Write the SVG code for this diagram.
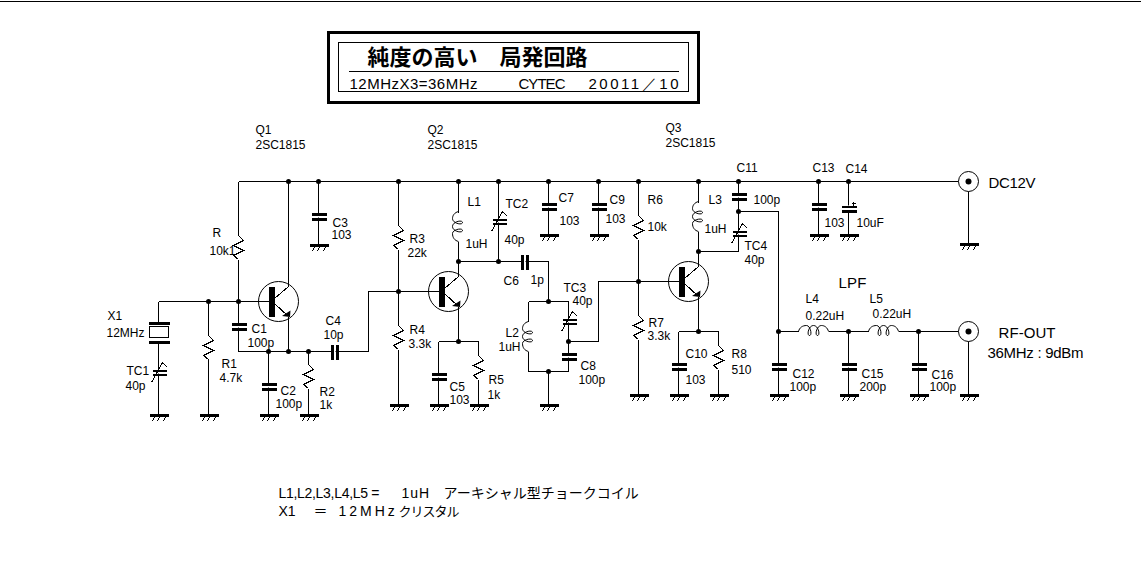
<svg xmlns="http://www.w3.org/2000/svg" xmlns:xlink="http://www.w3.org/1999/xlink" width="1141" height="576" viewBox="0 0 1141 576">
<style>
.w{fill:none;stroke:#000;stroke-width:1;shape-rendering:crispEdges}
.f{fill:#000;stroke:none;shape-rendering:crispEdges}
.d{fill:#000;stroke:none}
.t{font-family:"Liberation Sans",Arial,sans-serif;font-size:12px;fill:#000}
.m{font-family:"Liberation Sans",Arial,sans-serif;font-size:15px;fill:#000}
.j{font-family:"Liberation Sans","Noto Sans CJK JP",sans-serif;font-size:14px;fill:#000}
.h{font-family:"Noto Sans CJK JP",sans-serif;font-size:22px;font-weight:700;fill:#000}
</style>
<defs>
<g id="gnd"><rect class="f" x="-9" y="-1" width="19" height="3"/><path class="w" d="M-4 2L-6 7M1 2L-1 7M7 2L5 7"/></g>
<path id="res" class="w" d="M0 0L5 5L-5 10L5 15L-5 20L0 24"/>
<g id="cap"><rect x="-7.5" y="-1" width="16" height="2" fill="#fff"/><rect class="f" x="-7" y="-4" width="15" height="3"/><rect class="f" x="-7" y="1" width="15" height="3"/></g>
<g id="tc"><rect x="-7" y="-1" width="15" height="2" fill="#fff"/><rect class="f" x="-6" y="-3" width="14" height="2"/><rect class="f" x="-6" y="1" width="14" height="2"/><path class="w" d="M-7 10L4 -10L9 -5"/></g>
<path id="coil" fill="none" stroke="#000" stroke-width="1" d="M0 0C1 -4 4 -6 8 -6C12 -6 14 4 11 4C8 4 10 -6 15 -6C20 -6 22 4 19 4C16 4 18 -6 23 -6C26 -6 29 -4 30 0"/>
<g id="npn"><circle r="20" fill="none" stroke="#000" stroke-width="1"/><rect class="f" x="-10" y="-15" width="6" height="30"/><path class="w" d="M-4 -3L10 -15M-4 2L10 15"/><path class="d" d="M12 9L11.5 15.5L3.5 14.5Z"/></g>
<g id="jack"><circle r="10" fill="#fff" stroke="#000" stroke-width="1"/><circle r="3" class="d"/></g>
<circle id="dot" r="2.5" class="d"/>
</defs>
<rect id="top-line" x="0" y="1" width="1141" height="1" fill="#000"/>
<g transform="translate(.5 .5)">
<g id="title">
<rect x="328" y="32" width="370" height="70" fill="none" stroke="#000" stroke-width="3" shape-rendering="crispEdges"/>
<rect class="w" x="338" y="42" width="350" height="49"/>
<path class="w" d="M348 71H678"/>
<text class="h" x="367" y="64">純度の高い　局発回路</text>
<text class="m" x="349" y="88" textLength="128">12MHzX3=36MHz</text>
<text class="m" x="518" y="88" textLength="47">CYTEC</text>
<text class="m" x="588" y="88" textLength="90" font-family="Liberation Sans,Noto Sans CJK JP,sans-serif">20011／10</text>
</g>
<g id="connectors">
<path class="w" d="M238 181H968M238 181V235M238 259V351H368V291H438M288 181V286M288 316V351M318 181V244M158 301H268M158 301V322M158 341V414M208 301V335M208 358V414M268 351V414M308 351V364M308 388V414M398 181V225M398 249V325M398 349V404M458 181V212M458 241V276M458 306V341M438 341H478M438 341V404M478 341V355M478 379V404M458 261H548V301M528 301H568M528 301V321M528 351V371H568M568 301V371M548 371V404M498 181V261M548 181V234M598 181V234M568 341H598V281H678M638 181V215M638 239V315M638 339V394M698 181V202M698 231V266M698 296V331M678 331H718M678 331V394M718 331V345M718 369V394M738 181V251H698M738 211H778V394M778 331H798M828 331H868M898 331H968M848 331V394M918 331V394M968 181V243M968 331V394M818 181V234M848 181V234"/>
<g id="junctions">
<use href="#dot" x="288" y="181"/><use href="#dot" x="318" y="181"/><use href="#dot" x="398" y="181"/><use href="#dot" x="458" y="181"/><use href="#dot" x="498" y="181"/><use href="#dot" x="548" y="181"/><use href="#dot" x="598" y="181"/><use href="#dot" x="638" y="181"/><use href="#dot" x="698" y="181"/><use href="#dot" x="738" y="181"/><use href="#dot" x="818" y="181"/><use href="#dot" x="848" y="181"/>
<use href="#dot" x="208" y="301"/><use href="#dot" x="238" y="301"/><use href="#dot" x="268" y="351"/><use href="#dot" x="288" y="351"/><use href="#dot" x="308" y="351"/><use href="#dot" x="398" y="291"/><use href="#dot" x="458" y="261"/><use href="#dot" x="498" y="261"/><use href="#dot" x="458" y="341"/><use href="#dot" x="548" y="301"/><use href="#dot" x="548" y="371"/><use href="#dot" x="568" y="341"/><use href="#dot" x="638" y="281"/><use href="#dot" x="698" y="251"/><use href="#dot" x="698" y="331"/><use href="#dot" x="738" y="211"/><use href="#dot" x="778" y="331"/><use href="#dot" x="848" y="331"/><use href="#dot" x="918" y="331"/>
</g>
</g>
<g id="Q1"><use href="#npn" x="278" y="301"/><text class="t" x="255" y="133">Q1</text><text class="t" x="255" y="148">2SC1815</text></g>
<g id="Q2"><use href="#npn" x="448" y="291"/><text class="t" x="427" y="133">Q2</text><text class="t" x="427" y="148">2SC1815</text></g>
<g id="Q3"><use href="#npn" x="688" y="281"/><text class="t" x="665" y="131">Q3</text><text class="t" x="665" y="146">2SC1815</text></g>
<g id="X1"><rect class="f" x="148" y="321" width="21" height="3"/><rect x="149" y="326" width="19" height="11" fill="#fff" stroke="#000" stroke-width="1" shape-rendering="crispEdges"/><rect class="f" x="148" y="340" width="21" height="3"/><text class="t" x="107" y="319">X1</text><text class="t" x="106" y="336">12MHz</text></g>
<g id="TC1"><use href="#tc" x="158" y="372"/><text class="t" x="126" y="374">TC1</text><text class="t" x="125" y="389">40p</text></g>
<g id="R"><use href="#res" x="238" y="235"/><text class="t" x="212" y="236">R</text><text class="t" x="209" y="254">10k1</text></g>
<g id="R1"><use href="#res" x="208" y="335"/><text class="t" x="221" y="367">R1</text><text class="t" x="219" y="381">4.7k</text></g>
<g id="C1"><use href="#cap" x="238" y="326"/><text class="t" x="251" y="332">C1</text><text class="t" x="247" y="346">100p</text></g>
<g id="C2"><use href="#cap" x="268" y="386"/><text class="t" x="280" y="394">C2</text><text class="t" x="275" y="407">100p</text></g>
<g id="R2"><use href="#res" x="308" y="364"/><text class="t" x="319" y="395">R2</text><text class="t" x="319" y="408">1k</text></g>
<g id="C3"><use href="#cap" x="318" y="216"/><text class="t" x="332" y="226">C3</text><text class="t" x="331" y="238">103</text></g>
<g id="C4"><use href="#cap" transform="translate(334 351) rotate(90)"/><text class="t" x="325" y="324">C4</text><text class="t" x="323" y="338">10p</text></g>
<g id="R3"><use href="#res" x="398" y="225"/><text class="t" x="409" y="242">R3</text><text class="t" x="407" y="256">22k</text></g>
<g id="R4"><use href="#res" x="398" y="325"/><text class="t" x="409" y="333">R4</text><text class="t" x="408" y="347">3.3k</text></g>
<g id="C5"><use href="#cap" x="438" y="376"/><text class="t" x="449" y="390">C5</text><text class="t" x="449" y="403">103</text></g>
<g id="R5"><use href="#res" x="478" y="355"/><text class="t" x="488" y="383">R5</text><text class="t" x="487" y="398">1k</text></g>
<g id="L1"><use href="#coil" transform="translate(458 241) rotate(-90)"/><text class="t" x="467" y="205">L1</text><text class="t" x="465" y="247">1uH</text></g>
<g id="TC2"><use href="#tc" x="498" y="221"/><text class="t" x="505" y="207">TC2</text><text class="t" x="504" y="243">40p</text></g>
<g id="C6"><use href="#cap" transform="translate(524 261) rotate(90)"/><text class="t" x="503" y="284">C6</text><text class="t" x="530" y="283">1p</text></g>
<g id="C7"><use href="#cap" x="548" y="206"/><text class="t" x="558" y="201">C7</text><text class="t" x="559" y="224">103</text></g>
<g id="C9"><use href="#cap" x="598" y="206"/><text class="t" x="609" y="203">C9</text><text class="t" x="605" y="222">103</text></g>
<g id="L2"><use href="#coil" transform="translate(528 351) rotate(-90)"/><text class="t" x="505" y="336">L2</text><text class="t" x="498" y="350">1uH</text></g>
<g id="TC3"><use href="#tc" x="568" y="321"/><text class="t" x="563" y="291">TC3</text><text class="t" x="572" y="304">40p</text></g>
<g id="C8"><use href="#cap" x="568" y="356"/><text class="t" x="580" y="369">C8</text><text class="t" x="578" y="383">100p</text></g>
<g id="R6"><use href="#res" x="638" y="215"/><text class="t" x="647" y="203">R6</text><text class="t" x="647" y="230">10k</text></g>
<g id="R7"><use href="#res" x="638" y="315"/><text class="t" x="648" y="326">R7</text><text class="t" x="647" y="339">3.3k</text></g>
<g id="C10"><use href="#cap" x="678" y="366"/><text class="t" x="685" y="357">C10</text><text class="t" x="685" y="383">103</text></g>
<g id="R8"><use href="#res" x="718" y="345"/><text class="t" x="731" y="357">R8</text><text class="t" x="731" y="373">510</text></g>
<g id="L3"><use href="#coil" transform="translate(698 231) rotate(-90)"/><text class="t" x="708" y="203">L3</text><text class="t" x="704" y="232">1uH</text></g>
<g id="C11"><use href="#cap" x="738" y="196"/><text class="t" x="736" y="171">C11</text><text class="t" x="753" y="203">100p</text></g>
<g id="TC4"><use href="#tc" x="738" y="233"/><text class="t" x="744" y="249">TC4</text><text class="t" x="744" y="263">40p</text></g>
<g id="C12"><use href="#cap" x="778" y="366"/><text class="t" x="792" y="377">C12</text><text class="t" x="789" y="390">100p</text></g>
<g id="C13"><use href="#cap" x="818" y="206"/><text class="t" x="812" y="171">C13</text><text class="t" x="824" y="226">103</text></g>
<g id="C14"><rect x="841" y="205" width="15" height="7" fill="#fff"/><rect class="f" x="841" y="205" width="15" height="2"/><rect class="f" x="841" y="209" width="15" height="3"/><path class="w" d="M851 203H855M853 201V205"/><text class="t" x="845" y="172">C14</text><text class="t" x="856" y="226">10uF</text></g>
<g id="L4"><use href="#coil" x="798" y="331"/><text class="t" x="805" y="302">L4</text><text class="t" x="805" y="319">0.22uH</text></g>
<g id="L5"><use href="#coil" x="868" y="331"/><text class="t" x="869" y="302">L5</text><text class="t" x="872" y="317">0.22uH</text></g>
<g id="C15"><use href="#cap" x="848" y="366"/><text class="t" x="861" y="377">C15</text><text class="t" x="859" y="390">200p</text></g>
<g id="C16"><use href="#cap" x="918" y="366"/><text class="t" x="931" y="378">C16</text><text class="t" x="929" y="390">100p</text></g>
<g id="J1"><use href="#jack" x="968" y="181"/><text class="m" x="988" y="187" textLength="47">DC12V</text></g>
<g id="J2"><use href="#jack" x="968" y="331"/><text class="m" x="998" y="337" textLength="57">RF-OUT</text><text class="m" x="987" y="357" font-size="14" textLength="96">36MHz : 9dBm</text></g>
<text id="lpf" class="m" x="838" y="287" textLength="28">LPF</text>
<g id="grounds">
<use href="#gnd" x="158" y="414"/><use href="#gnd" x="208" y="414"/><use href="#gnd" x="268" y="414"/><use href="#gnd" x="308" y="414"/><use href="#gnd" x="318" y="244"/><use href="#gnd" x="398" y="404"/><use href="#gnd" x="438" y="404"/><use href="#gnd" x="478" y="404"/><use href="#gnd" x="548" y="404"/><use href="#gnd" x="548" y="234"/><use href="#gnd" x="598" y="234"/><use href="#gnd" x="638" y="394"/><use href="#gnd" x="678" y="394"/><use href="#gnd" x="718" y="394"/><use href="#gnd" x="778" y="394"/><use href="#gnd" x="848" y="394"/><use href="#gnd" x="918" y="394"/><use href="#gnd" x="968" y="394"/><use href="#gnd" x="968" y="243"/><use href="#gnd" x="818" y="234"/><use href="#gnd" x="848" y="234"/>
</g>
<g id="notes">
<text class="j" y="497"><tspan x="278" letter-spacing="-.3">L1,L2,L3,L4,L5 = </tspan><tspan x="401" letter-spacing="1">1uH </tspan><tspan x="443">アーキシャル型チョークコイル</tspan></text>
<text class="j" y="515"><tspan x="278">X1 </tspan><tspan x="313">＝ </tspan><tspan x="338" letter-spacing="3">12MHz</tspan><tspan x="398" font-size="13" letter-spacing="-1">クリスタル</tspan></text>
</g>
</g>
</svg>
